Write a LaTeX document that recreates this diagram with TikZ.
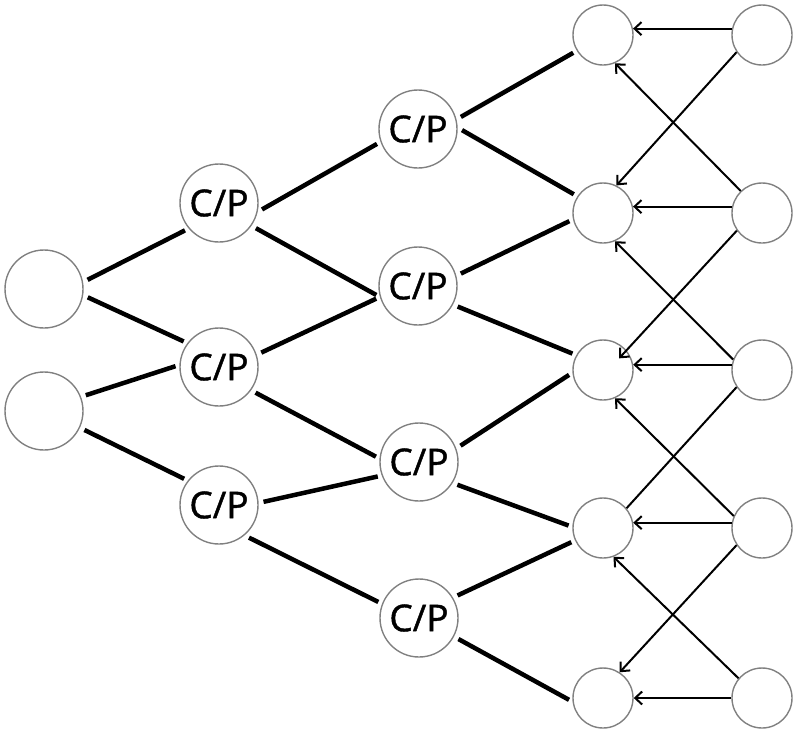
\documentclass[tikz,border=0pt]{standalone}
\usepackage{fontspec}
\setmainfont{Open Sans}
\newfontfamily\cpfont{Open Sans}[FakeBold=1.2]
\usetikzlibrary{arrows.meta}

\begin{document}
\begin{tikzpicture}[x=1pt,y=-1pt]
  \useasboundingbox (0,0) rectangle (800,737);

        \begin{scope}[every node/.style={circle, draw=gray, line width=1.4pt, inner sep=0pt, minimum size=78pt, font=\cpfont\fontsize{37}{40}\selectfont}]
          \node (l1) at (44,289)  {};
          \node (l2) at (44,411)  {};
          \node (p1) at (219,203) {C/P};
          \node (p2) at (219,367) {C/P};
          \node (p3) at (219,505) {C/P};
          \node (q1) at (418,129) {C/P};
          \node (q2) at (418,286) {C/P};
          \node (q3) at (419,462) {C/P};
          \node (q4) at (419,618) {C/P};
        \end{scope}

        \begin{scope}[every node/.style={circle, draw=gray, line width=1.4pt, inner sep=0pt, minimum size=60pt}]
          \node (a1) at (603,35)  {};
          \node (a2) at (603,213) {};
          \node (a3) at (603,370) {};
          \node (a4) at (603,528) {};
          \node (a5) at (603,698) {};
          \node (b1) at (762,35)  {};
          \node (b2) at (762,213) {};
          \node (b3) at (762,370) {};
          \node (b4) at (762,528) {};
          \node (b5) at (762,698) {};
        \end{scope}

        \begin{scope}[every edge/.style={draw, line width=4.5pt, shorten <=5pt, shorten >=4pt}]
          \path (l1.10)  edge (p1.220);
          \path (l1.-9)  edge (p2.143);
          \path (l2.21)  edge (p2.177);
          \path (l2.-25) edge (p3.142);
          \path (p1.-13) edge (q1.199);
          \path (p1.-35) edge (q2.196);
          \path (p2.18)  edge (q2.196);
          \path (p2.-36) edge (q3.175);
          \path (p3.3)   edge (q3.200);
          \path (p3.-50) edge (q4.159);
          \path (q1.14)  edge (a1.211);
          \path (q1.2)   edge (a2.147);
          \path (q2.15)  edge (a2.192);
          \path (q2.-28) edge (a3.151);
          \path (q3.20)  edge (a3.185);
          \path (q3.-32) edge (a4.178);
          \path (q4.31)  edge (a4.204);
          \path (q4.-28) edge (a5.187);
        \end{scope}

        \begin{scope}[every edge/.style={draw, line width=2pt, -{Straight Barb[length=7pt,width=13pt]}}]
          \path (b1.168) edge (a1.12);
          \path (b2.168) edge (a2.12);
          \path (b3.170) edge (a3.10);
          \path (b4.170) edge (a4.10);
          \path (b5.180) edge (a5.0);
          \path (b2.134) edge (a1.-67);
          \path (b3.160) edge (a2.-67);
          \path (b4.157) edge (a3.-67);
          \path (b5.140) edge (a4.-70);
          \path (b1.214) edge (a2.64);
          \path (b2.215) edge[shorten >=-11pt] (a3.40);
          \path (b3.214) edge[-] (a4.40);
          \path (b4.214) edge (a5.57);
        \end{scope}

      \end{tikzpicture}
\end{document}
